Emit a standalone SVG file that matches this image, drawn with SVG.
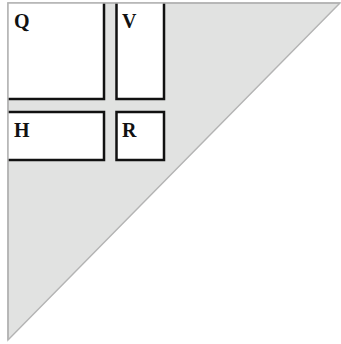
<svg xmlns="http://www.w3.org/2000/svg" width="341" height="344" viewBox="0 0 341 344">
  <style>
    .region { fill: #ffffff; stroke: #111111; stroke-width: 2.5; }
    .label { font-family: "Liberation Serif", "Times New Roman", serif; font-weight: bold; font-size: 20px; fill: #111111; }
  </style>
  <defs>
    <clipPath id="tri">
      <polygon points="8,3 340,3 8,340"/>
    </clipPath>
  </defs>
  <polygon id="domain" points="8,3 340,3 8,340" fill="#e1e2e1" stroke="#b4b4b4" stroke-width="1.5"/>
  <g clip-path="url(#tri)">
    <g id="Q">
      <rect class="region" x="-10" y="-10" width="114" height="109"/>
      <text class="label" x="14" y="28">Q</text>
    </g>
    <g id="V">
      <rect class="region" x="116.5" y="-10" width="47.5" height="109"/>
      <text class="label" x="122" y="28">V</text>
    </g>
    <g id="H">
      <rect class="region" x="-10" y="112" width="114" height="48"/>
      <text class="label" x="14" y="137">H</text>
    </g>
    <g id="R">
      <rect class="region" x="116.5" y="112" width="47.5" height="48"/>
      <text class="label" x="122" y="137">R</text>
    </g>
  </g>
  <g id="connectors"/>
  <polyline points="340,3 8,3 8,340" fill="none" stroke="#b4b4b4" stroke-width="1.5"/>
</svg>
